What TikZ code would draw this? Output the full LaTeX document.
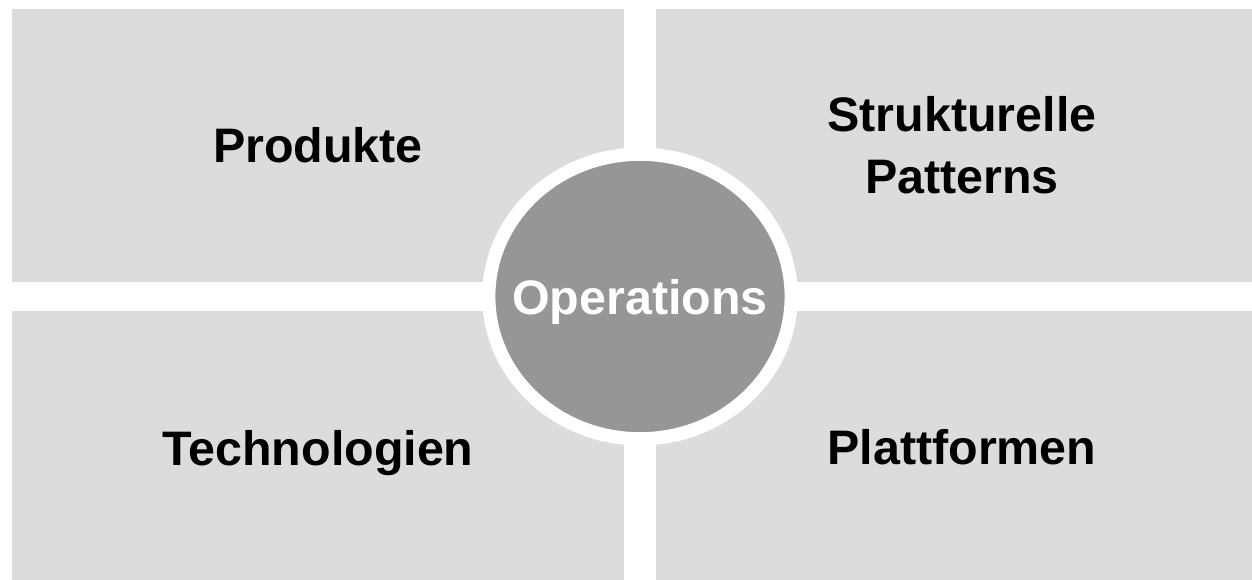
\documentclass[tikz,border=0pt]{standalone}
\usepackage{fontspec}
\setmainfont{Liberation Sans}
\usetikzlibrary{positioning,shapes.geometric,calc}
\definecolor{feldgrau}{RGB}{220,220,220}
\definecolor{kreisgrau}{RGB}{150,150,150}

\tikzset{
  feld/.style={rectangle, fill=feldgrau, minimum width=306pt, minimum height=136.5pt,
    inner sep=0pt, outer sep=0pt, align=center,
    font=\bfseries\fontsize{24.2pt}{31pt}\selectfont},
  mitte/.style={ellipse, fill=kreisgrau, draw=white, line width=6.6pt,
    minimum width=151.2pt, minimum height=142.3pt, inner sep=0pt, text=white,
    font=\bfseries\fontsize{24.2pt}{31pt}\selectfont}
}

\begin{document}
\begin{tikzpicture}
        \clip (0,0) rectangle (626pt,-289.5pt);
        \fill[white] (0,0) rectangle (626pt,-289.5pt);

        \node (produkte) [feld] at (159pt,-72.75pt) {Produkte};
        \node (strukturelle) [feld, right=16pt of produkte] {Strukturelle\\Patterns};
        \node (technologien) [feld, text depth=0pt, below=14.5pt of produkte] {Technologien};
        \node (plattformen) [feld, below=14.5pt of strukturelle] {Plattformen};

        \node (operations) [mitte, text depth=0pt] at ($(produkte.south east)!.5!(plattformen.north west)$) {\makebox[0pt]{Operations}};
\end{tikzpicture}
\end{document}
